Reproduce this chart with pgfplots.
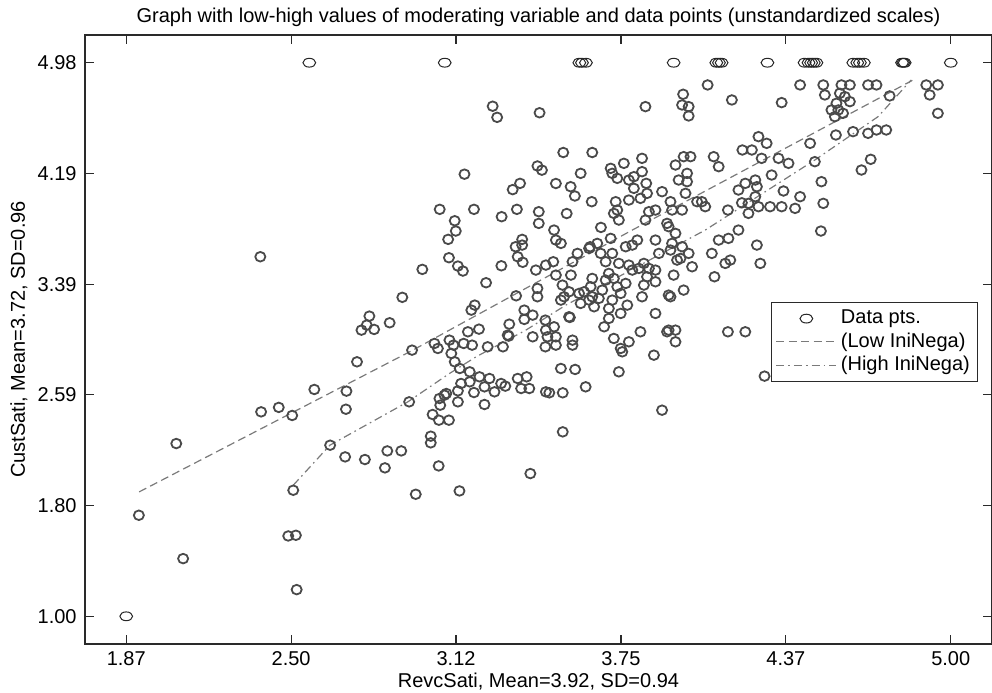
\documentclass[border=0pt]{standalone}
\usepackage{fontspec}
\setmainfont{Liberation Sans}
\usepackage{pgfplots}
\pgfplotsset{compat=1.18}
\definecolor{mk}{HTML}{4A4A4A}
\definecolor{ln}{HTML}{7A7A7A}
\definecolor{ax}{HTML}{2A2A2A}
\pgfplotsset{
  markleg/.style={legend image code/.code={\draw[##1] plot[mark repeat=2, mark phase=2] coordinates {(6pt,0pt) (21pt,0pt) (36pt,0pt)};}},
  lineleg/.style={legend image code/.code={\draw[##1] (6pt,0pt) -- (36pt,0pt);}},
}
\begin{document}
\begin{tikzpicture}
\begin{axis}[
  scale only axis, width=453.5pt, height=304.5pt,
  xmin=1.7135, xmax=5.1565, ymin=0.8008, ymax=5.1825,
  xtick={1.87,2.496,3.122,3.748,4.374,5.0},
  xticklabels={1.87,2.50,3.12,3.75,4.37,5.00},
  ytick={1,1.79667,2.59333,3.39,4.18667,4.98333},
  yticklabels={1.00,1.80,2.59,3.39,4.19,4.98},
  tick align=inside, major tick length=4.5pt,
  axis line style={draw=ax, line width=0.6pt},
  tick style={draw=ax, line width=0.6pt},
  ticklabel style={font=\fontsize{10}{12}\selectfont, inner sep=0pt},
  xticklabel style={anchor=base, yshift=-11pt},
  yticklabel style={anchor=east, xshift=-4pt},
  xlabel={RevcSati, Mean=3.92, SD=0.94},
  ylabel={CustSati, Mean=3.72, SD=0.96},
  xlabel style={font=\fontsize{10}{12}\selectfont, inner sep=0pt, at={(axis description cs:0.5,0)}, anchor=base, yshift=-22pt},
  ylabel style={font=\fontsize{10}{12}\selectfont, inner sep=0pt, at={(axis description cs:0,0.5)}, anchor=base, yshift=30pt},
  title={Graph with low-high values of moderating variable and data points (unstandardized scales)},
  title style={font=\fontsize{10}{12}\selectfont, inner sep=0pt, at={(axis description cs:0.5,1)}, anchor=base},
  legend style={at={(0.985,0.562)}, anchor=north east, font=\fontsize{10}{12}\selectfont,
    draw=ax, line width=0.5pt, inner sep=2pt, row sep=-1pt},
  legend cell align=left,
]
\addplot[only marks, mark=o, mark size=2.2pt, draw=black!85,
  mark options={xscale=1.45, line width=0.5pt, draw=black!85}, markleg]
table {
x y
1.870 1.000
2.565 4.983
3.079 4.983
3.590 4.983
3.600 4.983
3.615 4.983
3.948 4.983
4.110 4.983
4.120 4.983
4.130 4.983
4.304 4.983
4.445 4.983
4.460 4.983
4.470 4.983
4.480 4.983
4.490 4.983
4.630 4.983
4.645 4.983
4.655 4.983
4.670 4.983
4.815 4.983
4.820 4.983
4.825 4.983
5.000 4.983
};
\addlegendentry{Data pts.}
\addplot[draw=ln, line width=0.6pt, dash pattern=on 4pt off 2.2pt, lineleg]
coordinates {(1.919,1.895) (2.958,2.915) (3.791,3.779) (4.869,4.871)};
\addlegendentry{(Low IniNega)}
\addplot[draw=ln, line width=0.6pt, dash pattern=on 4pt off 2pt on 0.8pt off 2pt, lineleg]
coordinates {(2.504,1.943) (2.643,2.231) (2.939,2.543) (3.097,2.747) (3.198,2.867) (3.387,3.059) (3.539,3.239) (4.068,3.779) (4.484,4.283) (4.724,4.595) (4.850,4.859)};
\addlegendentry{(High IniNega)}
\addplot[forget plot, only marks, mark=o, mark size=2.4pt, draw=mk,
  mark options={xscale=1.05, line width=0.9pt, draw=mk}]
table {
x y
1.918 1.727
2.086 1.415
2.060 2.243
2.382 2.471
2.449 2.503
2.500 2.445
2.584 2.632
2.504 1.907
2.485 1.578
2.514 1.583
2.517 1.192
2.644 2.231
2.701 2.147
2.706 2.620
2.704 2.490
2.746 2.831
2.776 2.128
2.852 2.068
2.861 2.190
2.914 2.190
2.969 1.878
2.944 2.543
3.056 2.082
3.135 1.902
3.404 2.027
3.026 2.296
3.026 2.248
3.033 2.452
3.057 2.411
3.095 2.411
3.059 2.567
3.078 2.591
3.062 2.519
3.129 2.622
3.129 2.543
3.190 2.610
3.230 2.524
3.230 2.651
3.268 2.615
3.293 2.675
3.309 2.656
3.356 2.711
3.390 2.723
3.369 2.639
3.400 2.639
3.463 2.615
3.174 2.759
3.136 2.783
3.174 2.687
3.117 2.831
3.104 2.891
3.040 2.963
3.053 2.927
3.097 2.987
3.112 2.951
3.151 2.963
3.183 2.951
2.955 2.915
3.242 2.939
3.300 2.939
3.322 3.016
3.413 3.011
3.461 2.939
3.141 2.675
3.085 2.603
3.211 2.723
3.249 2.711
2.379 3.587
3.261 4.670
3.278 4.590
3.439 4.623
3.154 4.181
3.431 4.240
3.448 4.210
3.337 4.070
3.365 4.115
3.060 3.928
3.190 3.928
3.295 3.875
3.353 3.928
3.436 3.911
3.436 3.827
3.117 3.846
3.121 3.772
3.092 3.712
3.373 3.712
3.373 3.671
3.348 3.659
3.356 3.587
3.375 3.547
3.095 3.580
3.129 3.520
3.148 3.484
2.994 3.496
3.294 3.522
3.425 3.491
3.236 3.400
2.918 3.295
2.793 3.160
2.783 3.095
2.763 3.059
2.811 3.064
2.870 3.112
3.193 3.239
3.180 3.203
3.350 3.306
3.431 3.359
3.431 3.299
3.381 3.203
3.413 3.167
3.381 3.136
3.324 3.102
3.318 3.023
3.167 3.047
3.209 3.066
3.461 3.131
3.529 4.337
3.639 4.337
3.501 4.114
3.557 4.091
3.573 4.024
3.595 4.187
3.637 3.983
3.542 3.898
3.672 3.798
3.709 4.223
3.715 4.187
3.734 4.151
3.759 4.259
3.778 4.139
3.797 4.163
3.828 4.295
3.828 4.199
3.844 4.115
3.847 4.043
3.797 4.079
3.778 3.995
3.822 4.007
3.728 3.983
3.734 3.923
3.740 3.851
3.721 3.899
3.854 3.911
3.841 3.851
3.879 3.923
3.904 4.055
3.936 3.983
3.955 4.247
3.986 4.307
4.012 4.307
3.999 4.187
3.999 4.127
3.967 4.139
3.993 4.043
3.980 3.923
3.942 3.923
4.037 3.983
3.463 3.527
3.494 3.779
3.501 3.707
3.520 3.683
3.491 3.551
3.501 3.455
3.526 3.383
3.564 3.551
3.558 3.455
3.583 3.611
3.631 3.659
3.671 3.611
3.690 3.551
3.715 3.611
3.494 3.083
3.463 3.059
3.469 3.011
3.501 3.011
3.501 2.951
3.554 3.150
3.564 2.987
3.564 2.951
3.520 3.275
3.532 3.299
3.551 3.335
3.589 3.323
3.608 3.335
3.627 3.275
3.639 3.299
3.664 3.287
3.677 3.347
3.690 3.419
3.702 3.467
3.721 3.431
3.734 3.371
3.747 3.323
3.715 3.275
3.766 3.659
3.791 3.671
3.810 3.707
3.778 3.527
3.791 3.491
3.816 3.503
3.835 3.539
3.854 3.503
3.847 3.443
3.879 3.491
3.835 3.383
3.879 3.407
3.892 3.611
3.879 3.707
3.929 3.803
3.955 3.755
3.980 3.659
4.005 3.611
3.942 3.683
3.961 3.563
3.948 3.455
4.018 3.515
3.986 3.347
3.936 3.299
3.828 3.299
3.879 3.179
3.822 3.047
3.778 2.975
3.747 2.927
3.740 2.759
3.873 2.879
3.923 3.047
3.955 3.059
3.955 2.975
3.904 2.483
3.684 3.083
3.702 3.143
3.721 2.999
3.520 2.783
3.574 2.776
3.614 2.651
3.527 2.608
3.476 2.608
3.527 2.327
4.077 4.823
3.841 4.667
3.984 4.756
3.980 4.679
4.005 4.667
4.005 4.600
4.169 4.715
4.358 4.696
4.428 4.823
4.516 4.823
4.522 4.751
4.585 4.823
4.617 4.823
4.579 4.763
4.598 4.739
4.617 4.703
4.566 4.691
4.547 4.643
4.573 4.643
4.591 4.619
4.560 4.595
4.686 4.823
4.718 4.823
4.768 4.744
4.907 4.823
4.951 4.823
4.920 4.751
4.951 4.619
4.564 4.463
4.629 4.487
4.686 4.475
4.718 4.499
4.755 4.499
4.466 4.403
4.661 4.211
4.696 4.288
4.270 4.451
4.301 4.403
4.209 4.355
4.245 4.355
4.282 4.295
4.346 4.295
4.384 4.259
4.320 4.175
4.258 4.139
4.484 4.271
4.509 4.127
4.516 3.971
4.507 3.772
4.365 4.060
4.428 4.019
4.409 3.935
4.358 3.947
4.314 3.947
4.270 3.947
4.232 3.971
4.207 3.975
4.154 3.923
4.194 4.067
4.220 4.115
4.264 4.091
4.258 4.019
4.232 3.899
4.194 3.779
4.156 3.719
4.119 3.707
4.093 3.611
4.144 3.539
4.163 3.563
4.264 3.671
4.277 3.539
4.103 3.443
4.154 3.047
4.220 3.047
4.055 3.983
4.068 3.947
4.119 4.235
4.100 4.307
3.923 3.827
4.293 2.728
3.658 3.683
3.709 3.719
3.633 3.371
3.639 3.431
3.740 3.539
3.766 3.395
3.772 3.239
3.747 3.179
3.646 3.227
3.595 3.251
3.551 3.155
3.702 3.215
3.753 2.903
3.929 3.059
3.929 3.311
3.974 3.575
3.936 3.635
3.627 3.647
};
\coordinate (bl) at (rel axis cs:0,0);
\coordinate (tr) at (rel axis cs:1,1);
\end{axis}
\pgfresetboundingbox
\path[use as bounding box] ([xshift=-42.5pt,yshift=-24.5pt]bl) rectangle ([yshift=17.5pt]tr);
\end{tikzpicture}
\end{document}
